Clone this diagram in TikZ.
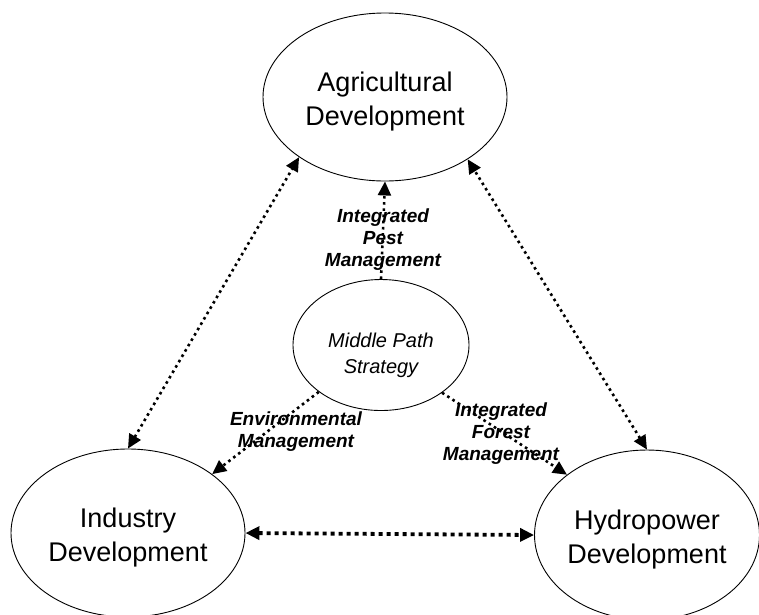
\documentclass[tikz,border=0pt]{standalone}
\usepackage{fontspec}
\setmainfont{Liberation Sans}
\usetikzlibrary{shapes.geometric,arrows.meta}

\newlength{\du}
\setlength{\du}{1pt}

\tikzset{
  >={Triangle[length=14pt,width=13pt]},
  devnode/.style={ellipse,draw=black,line width=0.9\du,inner sep=0pt,
    align=center,font=\fontsize{27}{34}\selectfont,
    text height=58.2pt,text depth=1.2pt},
  pathnode/.style={ellipse,draw=black,line width=0.9\du,inner sep=0pt,
    align=center,font=\fontsize{20}{26}\selectfont\itshape,
    text height=57pt,text depth=0pt},
  linklabel/.style={align=center,inner sep=0pt,
    font=\fontsize{19}{22}\selectfont\bfseries\itshape},
  link/.style={->,line width=2.6\du,dash pattern=on 2.6\du off 3.6\du},
  biglink/.style={link,<->},
  thicklink/.style={biglink,line width=3.8\du,dash pattern=on 4\du off 4\du}
}

\begin{document}
\begin{tikzpicture}
\pgftransformyscale{-1.000000}
\useasboundingbox (0,0) rectangle (759\du,614\du);

% the four ellipses
\node[devnode,minimum width=244\du,minimum height=168\du] (agri) at (385\du,97\du) {Agricultural\\Development};
\node[devnode,minimum width=234\du,minimum height=168\du] (ind) at (128\du,533\du) {Industry\\Development};
\node[devnode,minimum width=224\du,minimum height=170\du] (hyd) at (647\du,535\du) {Hydropower\\Development};
\node[pathnode,minimum width=176\du,minimum height=131\du] (mid) at (381\du,345\du) {Middle Path\\Strategy};

% links between developments
\draw[biglink] (ind.north) -- (agri.215);
\draw[biglink] (hyd.north) -- (agri.323);
\draw[thicklink] (ind.east) -- (hyd.west);

% links out of the strategy
\draw[link] (mid.north) -- (agri.south);
\draw[link] (mid.217) -- (ind.35);
\draw[link] (mid.322) -- (hyd.143);

\node[linklabel] (ipm) at (383\du,240\du) {Integrated\\Pest\\Management};
\node[linklabel] (envm) at (296\du,432\du) {Environmental\\Management};
\node[linklabel] (ifm) at (501\du,434\du) {Integrated\\Forest\\Management};
\end{tikzpicture}
\end{document}
